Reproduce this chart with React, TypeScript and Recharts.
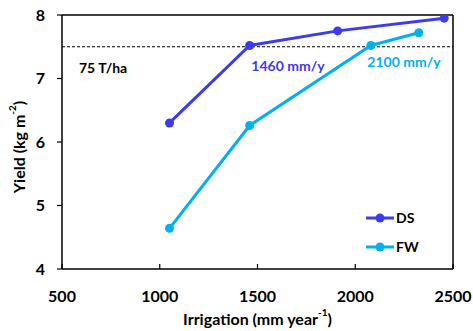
import React from 'react';
import {
  LineChart,
  Line,
  XAxis,
  YAxis,
  ReferenceLine,
  ReferenceDot,
  Legend,
} from 'recharts';

// irrigation (mm/year) vs yield (kg m-2)
const dsIrrigation = [1050, 1460, 1910, 2455];
const dsYield = [6.3, 7.52, 7.75, 7.95];
const fwIrrigation = [1050, 1460, 2080, 2325];
const fwYield = [4.64, 6.26, 7.52, 7.72];

const xTicks = [500, 1000, 1500, 2000, 2500];
const yTicks = [4, 5, 6, 7, 8];
const targetYield = 7.5;

const DS_COLOR = '#3b3bf2';
const FW_COLOR = '#00b0f0';
const FONT = 'Lato, "Open Sans", sans-serif';

const dsData = dsIrrigation.map((x, i) => ({ x, y: dsYield[i] }));
const fwData = fwIrrigation.map((x, i) => ({ x, y: fwYield[i] }));

const XTick = (props: any) => {
  const { x, y, payload } = props;
  return (
    <g>
      <line x1={x} y1={y} x2={x} y2={y - 5} stroke="#000" strokeWidth={1.2} />
      <text
        x={x}
        y={y + 26}
        textAnchor="middle"
        dominantBaseline="central"
        fontSize={16}
        fontWeight={700}
        fill="#000"
        fontFamily={FONT}
      >
        {payload.value}
      </text>
    </g>
  );
};

const XLabel = (props: any) => {
  const { viewBox } = props;
  const cx = viewBox.x + viewBox.width / 2;
  return (
    <text x={cx} y={318} textAnchor="middle" dominantBaseline="central" fontSize={16} fontWeight={700} fill="#000" fontFamily={FONT}>
      Irrigation (mm year
      <tspan dy={-6} fontSize={10}>-1</tspan>
      <tspan dy={6}>)</tspan>
    </text>
  );
};

const YLabel = (props: any) => {
  const { viewBox } = props;
  const cy = viewBox.y + viewBox.height / 2 + 5;
  return (
    <text
      x={18}
      y={cy}
      transform={`rotate(-90 18 ${cy})`}
      textAnchor="middle"
      dominantBaseline="central"
      fontSize={16}
      fontWeight={700}
      fill="#000"
      fontFamily={FONT}
    >
      Yield (kg m
      <tspan dy={-6} fontSize={10}>-2</tspan>
      <tspan dy={6}>)</tspan>
    </text>
  );
};

const note = (text: string, color: string, size = 13) => (props: any) => {
  const { viewBox } = props;
  return (
    <text x={viewBox.x} y={viewBox.y} textAnchor="middle" dominantBaseline="central" fontSize={size} fontWeight={700} fill={color} fontFamily={FONT}>
      {text}
    </text>
  );
};

const LegendBox = () => {
  const rows = [
    { name: 'DS', color: DS_COLOR },
    { name: 'FW', color: FW_COLOR },
  ];
  return (
    <div>
      {rows.map((r) => (
        <div key={r.name} style={{ display: 'flex', alignItems: 'center', height: 29 }}>
          <svg width={29} height={12}>
            <line x1={0} y1={6} x2={28} y2={6} stroke={r.color} strokeWidth={3} />
            <circle cx={14} cy={6} r={4.5} fill={r.color} />
          </svg>
          <span style={{ fontFamily: FONT, fontWeight: 700, fontSize: 14, color: '#000', marginLeft: 1 }}>{r.name}</span>
        </div>
      ))}
    </div>
  );
};

export default function App() {
  return (
    <div style={{ position: 'absolute', left: 0, top: 0, width: 473, height: 331, background: '#fff' }}>
      <LineChart width={473} height={331} margin={{ top: 15, right: 20, bottom: 32, left: 0 }} style={{ fontFamily: FONT }}>
        <XAxis
          type="number"
          dataKey="x"
          domain={[500, 2500]}
          ticks={xTicks}
          allowDataOverflow
          height={30}
          tickSize={0}
          tickMargin={0}
          tickLine={false}
          tick={<XTick />}
          axisLine={{ stroke: '#000', strokeWidth: 1.5 }}
          label={<XLabel />}
        />
        <YAxis
          type="number"
          dataKey="y"
          domain={[4, 8]}
          ticks={yTicks}
          allowDataOverflow
          width={62}
          tickSize={5}
          tickMargin={12}
          tickLine={{ stroke: '#000', strokeWidth: 1.2 }}
          axisLine={{ stroke: '#000', strokeWidth: 1.5 }}
          tick={{ fill: '#000', fontSize: 16, fontWeight: 700, fontFamily: FONT }}
          label={<YLabel />}
        />
        <ReferenceLine y={8} stroke="#000" strokeWidth={1.5} />
        <ReferenceLine x={2500} stroke="#000" strokeWidth={1.5} />
        <ReferenceLine y={targetYield} stroke="#000" strokeWidth={1} strokeDasharray="3 2" />
        <ReferenceDot x={710} y={7.17} r={0} stroke="none" label={note('75 T/ha', '#000', 14)} />
        <ReferenceDot x={1656} y={7.21} r={0} stroke="none" label={note('1460 mm/y', DS_COLOR, 14)} />
        <ReferenceDot x={2249} y={7.26} r={0} stroke="none" label={note('2100 mm/y', FW_COLOR, 14)} />
        <Line
          data={dsData}
          dataKey="y"
          name="DS"
          stroke={DS_COLOR}
          strokeWidth={3}
          dot={{ r: 4.5, fill: DS_COLOR, stroke: DS_COLOR, strokeWidth: 0 }}
          activeDot={false}
          isAnimationActive={false}
        />
        <Line
          data={fwData}
          dataKey="y"
          name="FW"
          stroke={FW_COLOR}
          strokeWidth={3}
          dot={{ r: 4.5, fill: FW_COLOR, stroke: FW_COLOR, strokeWidth: 0 }}
          activeDot={false}
          isAnimationActive={false}
        />
        <Legend
          layout="vertical"
          align="center"
          verticalAlign="middle"
          content={<LegendBox />}
          wrapperStyle={{ position: 'absolute', left: 366, top: 203, width: 60 }}
        />
      </LineChart>
    </div>
  );
}
